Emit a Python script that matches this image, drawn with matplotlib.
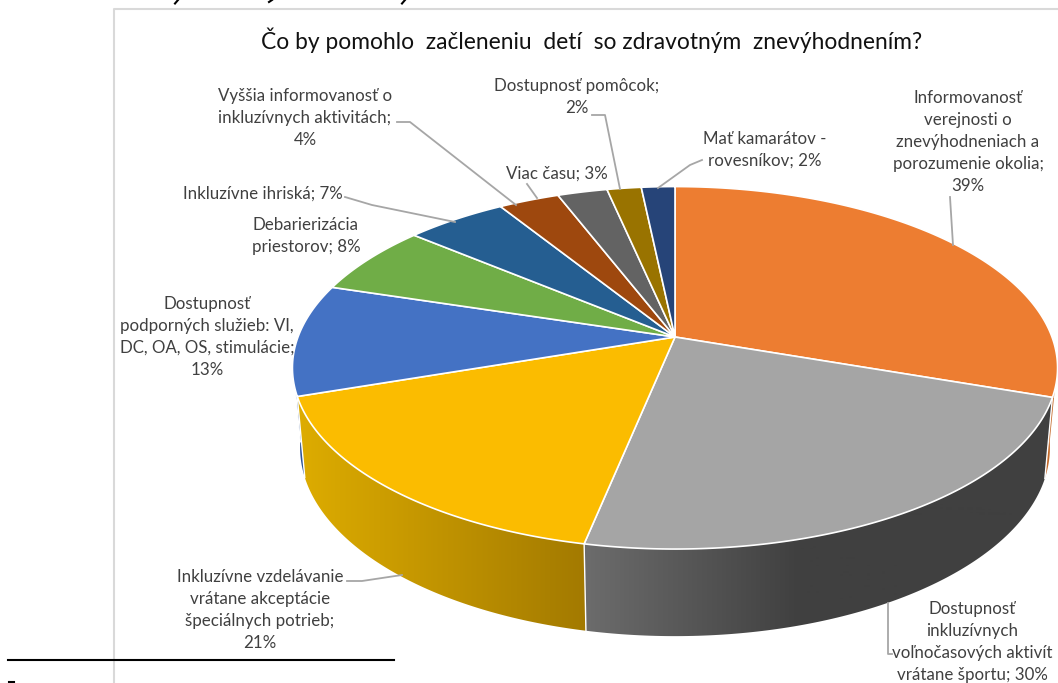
import numpy as np
import matplotlib
matplotlib.use("Agg")
from matplotlib import pyplot as plt
from matplotlib.patches import Polygon
from matplotlib.colors import LinearSegmentedColormap

title = "Čo by pomohlo  začleneniu  detí  so zdravotným  znevýhodnením?"
labels = [
    "Informovanosť\nverejnosti o\nznevýhodneniach a\nporozumenie okolia;\n39%",
    "Dostupnosť\ninkluzívnych\nvoľnočasových aktivít\nvrátane športu; 30%",
    "Inkluzívne vzdelávanie\nvrátane akceptácie\nšpeciálnych potrieb;\n21%",
    "Dostupnosť\npodporných služieb: VI,\nDC, OA, OS, stimulácie;\n13%",
    "Debarierizácia\npriestorov; 8%",
    "Inkluzívne ihriská; 7%",
    "Vyššia informovanosť o\ninkluzívnych aktivitách;\n4%",
    "Viac času; 3%",
    "Dostupnosť pomôcok;\n2%",
    "Mať kamarátov -\nrovesníkov; 2%",
]
values = [39.0, 29.6, 21.4, 12.85, 8.1, 6.5, 3.9, 3.2, 2.2, 2.15]
colors = ["#ED7D31", "#A5A5A5", "#FBBC00", "#4472C4", "#70AD47",
          "#255E91", "#9E480E", "#636363", "#997300", "#264478"]

# label centres in pixels
label_pos = [(968, 142), (972, 642), (260, 610), (207, 337), (306, 236),
             (263, 194), (305, 118), (557, 174), (577, 97), (765, 150)]
leaders = [
    [(950, 197), (953, 245)],
    [(892, 654), (888, 654), (888, 603)],
    [(347, 581), (362, 581), (402, 575)],
    [(345, 197), (372, 205), (455, 222)],
    [(397, 122), (410, 122), (516, 205)],
    [(527, 184), (537, 198)],
    [(592, 115), (605, 115), (620, 189)],
    [(702, 160), (690, 165), (658, 188)],
]
# bits of the page text cut off at the picture edges
page_bits = [
    [(178, 0), (175, 3.5)],
    [(272, 0), (269, 2)],
    [(405, 0), (402, 3.5)],
    [(9, 682), (14, 682)],
]

CX, CY = 675, 337
K = 0.17


def top_rim(a):
    u, v = np.sin(a), -np.cos(a)
    d = 1 - K * v
    return CX + 377 * u / d, CY + 176 * v / d


def low_rim(a):
    x, y = top_rim(a)
    return CX + 0.98 * (x - CX), CY + 78.6 + 1.04 * (y - CY)


plt.rcParams["font.family"] = ["Lato", "DejaVu Sans"]
fig = plt.figure(figsize=(10.58, 6.83), dpi=100)
ax = fig.add_axes([0, 0, 1, 1])

ax.plot([114, 114, 1058], [683, 9, 9], color="#d9d9d9", lw=1.5)
ax.plot([8, 394], [660, 660], color="black", lw=1.5)
for line in page_bits:
    xs, ys = zip(*line)
    ax.plot(xs, ys, color="black", lw=1.5)

edges = np.cumsum([0] + values) / sum(values) * 2 * np.pi

# side wall, only the part facing the viewer
side_from = np.radians(98)
side_to = np.radians(262)
shade = {
    0: ("#c46a2a", "#c46a2a", 285, 1058),
    1: ("#6c6c6c", "#404040", 585, 800),
    2: ("#dcab00", "#a37a00", 305, 585),
    3: ("#2f5597", "#2f5597", 285, 1058),
}
xgrid = np.linspace(285, 1058, 774)
for i in shade:
    a0 = max(edges[i], side_from)
    a1 = min(edges[i + 1], side_to)
    t = np.linspace(a0, a1, 120)
    xt, yt = top_rim(t)
    xl, yl = low_rim(t)
    pts = np.r_[np.c_[xt, yt], np.c_[xl, yl][::-1]]
    poly = Polygon(pts, closed=True, fc="none", ec="none")
    ax.add_patch(poly)
    c0, c1, x0, x1 = shade[i]
    cmap = LinearSegmentedColormap.from_list("s", [c0, c1])
    ramp = np.interp(xgrid, [x0, x1], [0, 1])
    im = ax.imshow(ramp[None, :], cmap=cmap, aspect="auto", vmin=0, vmax=1,
                   extent=(285, 1058, 700, 300), zorder=2)
    im.set_clip_path(poly)
    # white seam on the front edge of the wall
    ax.plot([xt[-1], xl[-1]], [yt[-1], yl[-1]], color="white", lw=1, zorder=2.5)

# top face
for i, v in enumerate(values):
    t = np.linspace(edges[i], edges[i + 1], 150)
    xt, yt = top_rim(t)
    pts = np.r_[[(CX, CY)], np.c_[xt, yt]]
    ax.add_patch(Polygon(pts, closed=True, fc=colors[i], ec="white", lw=1.2, zorder=3))

for line in leaders:
    xs, ys = zip(*line)
    ax.plot(xs, ys, color="#a6a6a6", lw=1.3, zorder=4)

for s, (x, y) in zip(labels, label_pos):
    ax.text(x, y, s, ha="center", va="center", fontsize=12.2, color="#404040",
            linespacing=1.47, zorder=5)

ax.text(592, 40, title, ha="center", va="center", fontsize=16.4, color="#111111", zorder=5)

ax.set_xlim(0, 1058)
ax.set_ylim(683, 0)
ax.axis("off")
fig.savefig("out.png", dpi=100)
